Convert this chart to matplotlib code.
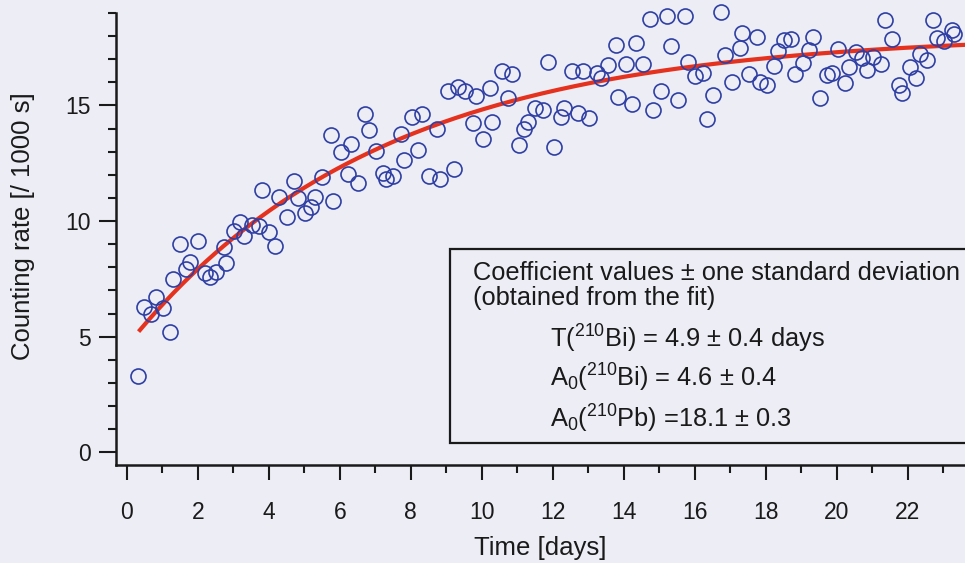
import matplotlib.pyplot as plt
import numpy as np
from matplotlib.patches import Rectangle

plt.rcParams['font.family'] = ['Liberation Sans', 'DejaVu Sans']

# measured counting rate vs time
time_days = [0.31, 0.48, 0.68, 0.81, 1.01, 1.22, 1.31, 1.50, 1.68, 1.79,
             2.00, 2.19, 2.33, 2.52, 2.74, 2.80, 3.01, 3.18, 3.30, 3.52,
             3.72, 3.82, 4.00, 4.17, 4.30, 4.50, 4.72, 4.81, 5.01, 5.20,
             5.31, 5.50, 5.74, 5.82, 6.03, 6.23, 6.31, 6.52, 6.72, 6.81,
             7.01, 7.22, 7.31, 7.50, 7.71, 7.81, 8.02, 8.20, 8.32, 8.52,
             8.75, 8.83, 9.05, 9.22, 9.33, 9.53, 9.74, 9.84, 10.03, 10.23,
             10.30, 10.56, 10.74, 10.85, 11.04, 11.20, 11.31, 11.51, 11.73, 11.86,
             12.03, 12.24, 12.32, 12.54, 12.72, 12.85, 13.03, 13.24, 13.35, 13.55,
             13.77, 13.84, 14.05, 14.24, 14.33, 14.53, 14.74, 14.83, 15.05, 15.22,
             15.34, 15.53, 15.73, 15.80, 16.00, 16.23, 16.33, 16.52, 16.74, 16.84,
             17.05, 17.26, 17.34, 17.52, 17.74, 17.84, 18.03, 18.23, 18.33, 18.52,
             18.72, 18.82, 19.04, 19.21, 19.32, 19.53, 19.72, 19.86, 20.03, 20.23,
             20.34, 20.53, 20.70, 20.85, 21.01, 21.24, 21.36, 21.54, 21.75, 21.84,
             22.06, 22.23, 22.34, 22.54, 22.72, 22.81, 23.03, 23.23, 23.31]
rate = [3.30, 6.29, 5.99, 6.73, 6.22, 5.22, 7.48, 9.00, 7.92, 8.22,
        9.14, 7.76, 7.58, 7.81, 8.89, 8.20, 9.55, 9.98, 9.34, 9.82,
        9.78, 11.34, 9.52, 8.92, 11.04, 10.18, 11.75, 11.01, 10.37, 10.59,
        11.02, 11.89, 13.71, 10.86, 12.98, 12.04, 13.34, 11.65, 14.64, 13.95,
        13.05, 12.10, 11.84, 11.93, 13.75, 12.63, 14.50, 13.07, 14.63, 11.95,
        13.99, 11.83, 15.64, 12.27, 15.78, 15.61, 14.23, 15.40, 13.54, 15.75,
        14.28, 16.50, 15.33, 16.37, 13.30, 14.00, 14.30, 14.91, 14.79, 16.87,
        13.19, 14.49, 14.89, 16.49, 14.68, 16.50, 14.47, 16.42, 16.20, 16.77,
        17.60, 15.35, 16.78, 15.05, 17.70, 16.79, 18.74, 14.81, 15.63, 18.88,
        17.59, 15.25, 18.85, 16.86, 16.26, 16.39, 14.40, 15.45, 19.04, 17.18,
        16.02, 17.50, 18.15, 16.37, 17.94, 16.03, 15.87, 16.69, 17.34, 17.82,
        17.87, 16.36, 16.84, 17.40, 17.97, 15.33, 16.33, 16.42, 17.46, 15.95,
        16.65, 17.30, 17.04, 16.53, 17.09, 16.80, 18.70, 17.88, 15.90, 15.55,
        16.68, 16.17, 17.21, 16.95, 18.69, 17.91, 17.78, 18.26, 18.09]

# fit coefficients
T_bi = 4.9
A0_bi = 4.6
A0_pb = 18.1

bg = '#ecedf5'
ink = '#1a1a1a'
fig = plt.figure(figsize=(9.65, 5.63), dpi=100, facecolor=bg)
ax = fig.add_axes([0.120, 0.174, 0.880, 0.803], facecolor=bg)

# growth of 210Bi activity towards equilibrium with 210Pb
t = np.linspace(0.37, 23.7, 300)
lam = np.log(2) / T_bi
fit = A0_pb * (1 - np.exp(-lam * t)) + A0_bi * np.exp(-lam * t)
ax.plot(t, fit, color='#e5321e', lw=3.0, zorder=2)

ax.plot(time_days, rate, 'o', ms=10.8, mfc='none', mec='#2f3fa3', mew=1.2,
        clip_on=False, zorder=3)

ax.set_xlim(-0.31, 23.61)
ax.set_ylim(-0.55, 19.0)
ax.spines['top'].set_visible(False)
ax.spines['right'].set_visible(False)
for s in ['left', 'bottom']:
    ax.spines[s].set_linewidth(1.8)
    ax.spines[s].set_color(ink)

ax.set_xticks(np.arange(0, 23, 2))
ax.set_xticks(np.arange(1, 24, 2), minor=True)
ax.set_yticks([0, 5, 10, 15])
ax.set_yticks([y for y in range(0, 20) if y % 5 != 0], minor=True)
ax.tick_params(axis='x', which='major', length=11, width=1.5, pad=15,
               labelsize=16.5, colors=ink)
ax.tick_params(axis='x', which='minor', length=6, width=1.5, colors=ink)
ax.tick_params(axis='y', which='major', length=12, width=1.5, pad=6,
               labelsize=16.5, colors=ink)
ax.tick_params(axis='y', which='minor', length=6, width=1.5, colors=ink)

ax.set_xlabel('Time [days]', fontsize=18.5, color=ink)
ax.xaxis.set_label_coords(0.5, -0.158)
ax.set_ylabel('Counting rate [/ 1000 s]', fontsize=18.5, color=ink)
ax.yaxis.set_label_coords(-0.095, 0.529)

# coefficient box
fig.add_artist(Rectangle((0.466, 0.213), 0.6, 0.345, transform=fig.transFigure,
                         facecolor=bg, edgecolor=ink, lw=1.6,
                         clip_on=False, zorder=4))
kw = dict(fontsize=18.3, color=ink, va='baseline', zorder=5)
fig.text(0.490, 0.503, 'Coefficient values \u00b1 one standard deviation', **kw)
fig.text(0.490, 0.458, '(obtained from the fit)', **kw)
fig.text(0.570, 0.382,
         r'T($\mathregular{^{210}}$Bi) = %.1f ± 0.4 days' % T_bi, **kw)
fig.text(0.570, 0.313,
         r'A$\mathregular{_0}$($\mathregular{^{210}}$Bi) = %.1f ± 0.4' % A0_bi, **kw)
fig.text(0.570, 0.240,
         r'A$\mathregular{_0}$($\mathregular{^{210}}$Pb) =%.1f ± 0.3' % A0_pb, **kw)

fig.savefig('out.png', dpi=100, facecolor=bg)
